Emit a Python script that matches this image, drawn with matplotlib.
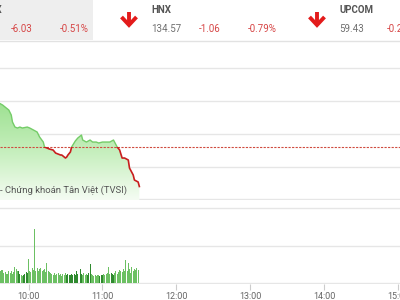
"""
plot.py -- VN-Index intraday snapshot (price + volume) with index header
"""

import numpy as np
import matplotlib

matplotlib.use("Agg")
import matplotlib.pyplot as plt
from matplotlib.colors import LinearSegmentedColormap
from matplotlib.lines import Line2D
from matplotlib.patches import Rectangle

plt.rcParams["font.family"] = ["Roboto", "DejaVu Sans"]

# ── Data ──────────────────────────────────────────────────

# header tiles: name, last value, change, change %
index_names = ["VN-INDEX", "HNX", "UPCOM"]
index_values = ["1,176.97", "134.57", "59.43"]
index_changes = ["-6.03", "-1.06", "-0.21"]
index_pcts = ["-0.51%", "-0.79%", "-0.21%"]

# intraday price, minutes after 9:00
price_minutes = [36, 39, 42, 44, 46, 47, 49, 51, 53, 55,
                 59, 61, 64, 67, 69, 72, 73, 75, 77, 80,
                 82, 84, 86, 87, 90, 91, 92, 94, 95, 98,
                 100, 102, 103, 104, 107, 110, 112, 115, 117, 120,
                 123, 126, 129, 132, 134, 136, 138, 141, 142, 145,
                 146, 149, 150]
price_values = [1189.72, 1189.41, 1188.95, 1188.65, 1187.89, 1186.82, 1186.05, 1185.90, 1186.05, 1185.90,
                1186.05, 1185.90, 1185.60, 1185.29, 1184.53, 1183.76, 1183.00, 1182.85, 1182.69, 1182.54,
                1182.08, 1181.93, 1181.78, 1181.78, 1181.32, 1181.47, 1181.78, 1182.24, 1183.00, 1183.92,
                1184.37, 1184.68, 1184.83, 1184.07, 1183.76, 1184.07, 1183.76, 1183.76, 1183.61, 1183.76,
                1183.76, 1183.76, 1184.07, 1183.00, 1182.54, 1181.32, 1181.32, 1181.02, 1179.79, 1178.73,
                1177.96, 1177.66, 1176.97]
reference_price = 1183.00

# volume per minute (10k shares), first bar at 9:35
volume_start = 35
volumes = [12, 12,
           12, 13, 13, 10, 11, 9, 9, 12, 10, 12,
           9, 11, 16, 14, 12, 12, 9, 8, 7, 8,
           9, 11, 10, 24, 12, 11, 15, 13, 54, 12,
           15, 12, 14, 15, 12, 13, 14, 11, 20, 12,
           11, 10, 9, 8, 10, 8, 9, 10, 8, 9,
           7, 9, 8, 10, 8, 9, 8, 8, 9, 8,
           9, 8, 12, 9, 8, 14, 9, 8, 10, 8,
           9, 8, 10, 19, 9, 8, 7, 8, 7, 8,
           8, 7, 8, 8, 9, 8, 9, 10, 16, 9,
           10, 9, 8, 10, 12, 9, 11, 13, 12, 11,
           14, 12, 23, 12, 20, 14, 10, 16, 12, 14,
           13, 15, 13]

hour_ticks = [60, 120, 180, 240, 300, 360]
hour_labels = ["10:00", "11:00", "12:00", "13:00", "14:00", "15:00"]
price_grid = [1175, 1180, 1185, 1190, 1195]
volume_grid = [0, 37.5, 75]

source_text = "- Chứng khoán Tân Việt (TVSI)"

# ── Layout helpers (figure is 400 x 300 px) ───────────────

W, H = 400, 300
X_LIM = (36.86, 36.86 + W / 1.2317)

RED = "#d64545"
GRID = "#e6e6e6"


def fx(px):
    return px / W


def fy(py):
    return 1 - py / H


def draw_arrow(fig, cx):
    kw = dict(transform=fig.transFigure, color="#e31b1b", lw=2.8)
    fig.add_artist(Line2D([fx(cx), fx(cx)], [fy(12), fy(24)],
                          solid_capstyle="butt", **kw))
    fig.add_artist(Line2D([fx(cx - 7.5), fx(cx), fx(cx + 7.5)],
                          [fy(17), fy(25), fy(17)],
                          solid_joinstyle="miter", solid_capstyle="butt", **kw))


# ── Figure ────────────────────────────────────────────────

fig = plt.figure(figsize=(4, 3), dpi=100)
fig.patch.set_facecolor("white")

# header
fig.add_artist(Rectangle((0, fy(40)), fx(93), 40 / H, transform=fig.transFigure,
                         facecolor="#eeeeee", edgecolor="none"))
fig.add_artist(Line2D([0, 1], [fy(40.5), fy(40.5)], transform=fig.transFigure,
                      color="#e2e2e2", lw=1))

name_x = [3, 151, 339]
chg_x = [11, 199, 387]
pct_x = [60, 248, 435]
for i, name in enumerate(index_names):
    if i == 0:
        fig.text(fx(name_x[i]), fy(10), name, ha="right", va="center",
                 fontsize=7, fontweight="bold", color="#555555")
    else:
        fig.text(fx(name_x[i]), fy(10), name, ha="left", va="center",
                 fontsize=7, fontweight="bold", color="#555555")
        fig.text(fx(name_x[i]), fy(29), index_values[i], ha="left", va="center",
                 fontsize=7, color="#707070")
    fig.text(fx(chg_x[i]), fy(29), index_changes[i], ha="left", va="center",
             fontsize=7, color=RED)
    fig.text(fx(pct_x[i]), fy(29), index_pcts[i], ha="left", va="center",
             fontsize=7, color=RED)

draw_arrow(fig, 129)
draw_arrow(fig, 317)

# ── Price panel ───────────────────────────────────────────

ax = fig.add_axes([0, fy(200), 1, 145 / H])
ax.set_xlim(*X_LIM)
ax.set_ylim(1174.91, 1197.05)
ax.axis("off")

for g in price_grid:
    ax.axhline(g, color=GRID, lw=1, zorder=0)

t = np.array(price_minutes, dtype=float)
v = np.array(price_values)
floor = 1174.91

poly = ax.fill_between(t, v, floor, facecolor="none", edgecolor="none")
cmap = LinearSegmentedColormap.from_list("fade", ["#f5fcf3", "#c6efbd", "#9ee192"])
grad = np.linspace(0, 1, 256).reshape(-1, 1)
im = ax.imshow(grad, cmap=cmap, origin="lower", aspect="auto",
               extent=[t[0], t[-1], floor, v.max()], zorder=1)
im.set_clip_path(poly.get_paths()[0], transform=ax.transData)

ax.axhline(reference_price, color="#cf4b3f", lw=0.8, ls=(0, (2, 1.2)), zorder=2)

up_clip = Rectangle((X_LIM[0], reference_price), X_LIM[1] - X_LIM[0], 40,
                    transform=ax.transData)
down_clip = Rectangle((X_LIM[0], reference_price - 40), X_LIM[1] - X_LIM[0], 40,
                      transform=ax.transData)
green_line, = ax.plot(t, v, color="#74cc68", lw=1, zorder=3)
green_line.set_clip_path(up_clip)
red_line, = ax.plot(t, v, color="#c81e1e", lw=1.2, zorder=3)
red_line.set_clip_path(down_clip)

ax.set_xlim(*X_LIM)
ax.set_ylim(1174.91, 1197.05)

fig.text(fx(0), fy(190), source_text, ha="left", va="center",
         fontsize=6.8, color="#555555")

# ── Volume panel ──────────────────────────────────────────

axv = fig.add_axes([0, fy(284), 1, 78 / H])
axv.set_xlim(*X_LIM)
axv.set_ylim(-1, 77)
for s in axv.spines.values():
    s.set_visible(False)
axv.set_yticks([])
for g in volume_grid:
    axv.axhline(g, color=GRID, lw=1, zorder=0)

vol_t = volume_start + np.arange(len(volumes))
prev = np.interp(vol_t - 1, t, v)
curr = np.interp(vol_t, t, v)
bar_colors = np.where(curr > prev, "#2f8a2f", "#6cc063")
axv.bar(vol_t, volumes, width=0.8, color=bar_colors, linewidth=0, zorder=2)

axv.set_xticks(hour_ticks)
axv.set_xticklabels(hour_labels)
axv.tick_params(axis="x", length=4, width=0.8, color="#cccccc",
                labelsize=6.5, labelcolor="#666666", pad=2)

fig.savefig("out.png", dpi=100)
